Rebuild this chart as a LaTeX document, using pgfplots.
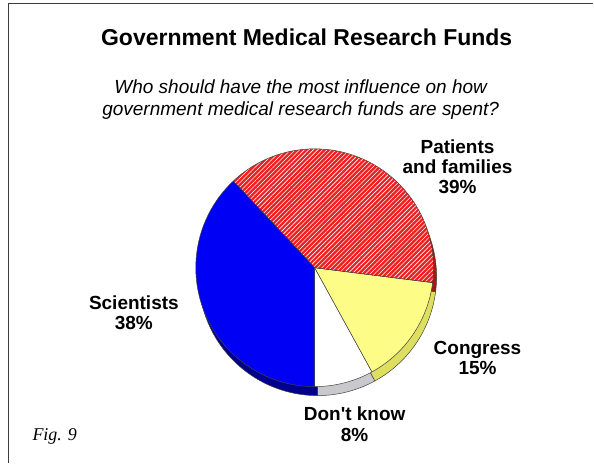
\documentclass[border=0pt]{standalone}
\usepackage{pgfplots}
\pgfplotsset{compat=1.18}
\usepackage{pgfplotstable}
\usetikzlibrary{patterns.meta}
\usepackage{fontspec}
\setmainfont{Liberation Sans}
\newfontfamily\serifit{Liberation Serif}

\definecolor{pblue}{RGB}{0,0,245}
\definecolor{pblueD}{RGB}{0,0,140}
\definecolor{pred}{RGB}{240,30,30}
\definecolor{predD}{RGB}{170,20,20}
\definecolor{pyel}{RGB}{252,252,135}
\definecolor{pyelD}{RGB}{222,222,95}
\definecolor{pwhite}{RGB}{255,255,255}
\definecolor{pgray}{RGB}{200,200,205}
\definecolor{frame}{RGB}{60,60,60}

\pgfplotstableread{
label value
Dontknow 8
Congress 15
Patients 39
Scientists 38
}\piedata

\def\cx{315}
\def\cy{195}
\def\R{119}

\begin{document}
\begin{tikzpicture}
\pgfplotstablegetelem{0}{value}\of\piedata \pgfmathsetmacro\aA{-90+3.6*\pgfplotsretval}
\pgfplotstablegetelem{1}{value}\of\piedata \pgfmathsetmacro\aB{\aA+3.6*\pgfplotsretval}
\pgfplotstablegetelem{2}{value}\of\piedata \pgfmathsetmacro\aC{\aB+3.6*\pgfplotsretval}
\pgfplotstablegetelem{3}{value}\of\piedata \pgfmathsetmacro\aD{\aC+3.6*\pgfplotsretval}
\begin{axis}[
  width=594pt, height=463pt, scale only axis,
  xmin=0, xmax=594, ymin=0, ymax=463,
  hide axis, clip=false,
]
% bounding box
\path (axis cs:0,0) rectangle (axis cs:594,463);
% frame
\draw[frame, line width=1.2pt] (axis cs:8.5,0) -- (axis cs:8.5,459.5) -- (axis cs:594,459.5);

% rim (shifted pie)
\begin{scope}[shift={(3pt,-9pt)}]
\filldraw[fill=pgray, draw=black!75, line width=0.5pt] (axis cs:\cx,\cy) -- +(-90:\R pt) arc[start angle=-90, end angle=\aA, radius=\R pt] -- cycle;
\filldraw[fill=pyelD, draw=black!75, line width=0.5pt] (axis cs:\cx,\cy) -- +(\aA:\R pt) arc[start angle=\aA, end angle=\aB, radius=\R pt] -- cycle;
\filldraw[fill=predD, draw=black!75, line width=0.5pt] (axis cs:\cx,\cy) -- +(\aB:\R pt) arc[start angle=\aB, end angle=\aC, radius=\R pt] -- cycle;
\filldraw[fill=pblueD, draw=black!75, line width=0.5pt] (axis cs:\cx,\cy) -- +(\aC:\R pt) arc[start angle=\aC, end angle=\aD, radius=\R pt] -- cycle;
\end{scope}

% faces
\filldraw[fill=pwhite, draw=black!75, line width=0.5pt] (axis cs:\cx,\cy) -- +(-90:\R pt) arc[start angle=-90, end angle=\aA, radius=\R pt] -- cycle;
\filldraw[fill=pyel, draw=black!75, line width=0.5pt] (axis cs:\cx,\cy) -- +(\aA:\R pt) arc[start angle=\aA, end angle=\aB, radius=\R pt] -- cycle;
\path[preaction={fill=pred}, pattern={Lines[angle=45,distance=3.2pt,line width=0.6pt]}, pattern color=white] (axis cs:\cx,\cy) -- +(\aB:\R pt) arc[start angle=\aB, end angle=\aC, radius=\R pt] -- cycle;
\draw[black!75, line width=0.5pt] (axis cs:\cx,\cy) -- +(\aB:\R pt) arc[start angle=\aB, end angle=\aC, radius=\R pt] -- cycle;
\filldraw[fill=pblue, draw=black!75, line width=0.5pt] (axis cs:\cx,\cy) -- +(\aC:\R pt) arc[start angle=\aC, end angle=\aD, radius=\R pt] -- cycle;

% texts
\node[align=center, font=\bfseries\fontsize{23}{26}\selectfont] at (axis cs:307,426) {Government Medical Research Funds};
\node[align=center, font=\itshape\fontsize{19}{22}\selectfont] at (axis cs:301,363) {Who should have the most influence on how\\government medical research funds are spent?};
\node[align=center, font=\bfseries\fontsize{19}{20}\selectfont] at (axis cs:458,296) {Patients\\and families\\39\%};
\node[align=center, font=\bfseries\fontsize{19}{20}\selectfont] at (axis cs:134,150) {Scientists\\38\%};
\node[align=center, font=\bfseries\fontsize{19}{20}\selectfont] at (axis cs:478,105) {Congress\\15\%};
\node[align=center, font=\bfseries\fontsize{19}{21}\selectfont] at (axis cs:355,38) {Don\textquotesingle t know\\8\%};
\node[font=\serifit\itshape\fontsize{18}{20}\selectfont, anchor=west] at (axis cs:29,26) {Fig. 9};
\end{axis}
\end{tikzpicture}
\end{document}
